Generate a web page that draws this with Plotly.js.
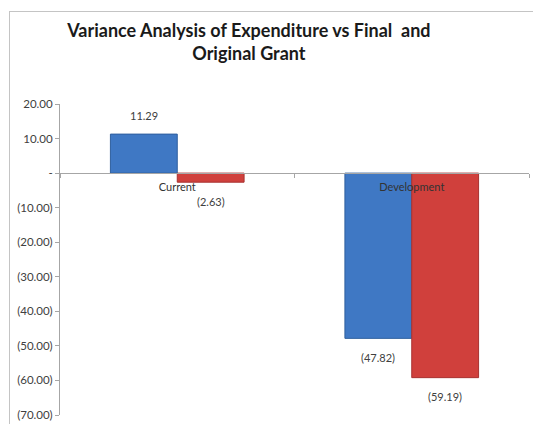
<!DOCTYPE html>
<html>
<head>
<meta charset="utf-8">
<script src="https://cdn.plot.ly/plotly-3.0.1.min.js"></script>
<style>
  html, body { margin: 0; padding: 0; background: #ffffff; }
  #wrap { position: relative; width: 533px; height: 424px; overflow: hidden; }
  #chart { width: 533px; height: 424px; }
  /* outer chart-area border, open to the right and bottom */
  #frame {
    position: absolute; left: 9px; top: 11px; width: 600px; height: 500px;
    border-left: 1px solid #c4c4c4; border-top: 1px solid #c4c4c4;
    pointer-events: none;
  }
</style>
</head>
<body>
<div id="wrap">
  <div id="chart"></div>
  <div id="frame"></div>
</div>
<script>
// Variance of expenditure by vote category
const categories = ["Current", "Development"];
const seriesNames = ["Variance vs Final Grant", "Variance vs Original Grant"];
const varianceFinal = [11.29, -47.82];
const varianceOriginal = [-2.63, -59.19];

// Value axis ticks, accounting-style labels
const yTickVals = [20, 10, 0, -10, -20, -30, -40, -50, -60, -70];
const yTickText = ["20.00", "10.00", "-", "(10.00)", "(20.00)", "(30.00)",
                   "(40.00)", "(50.00)", "(60.00)", "(70.00)"];

const yMin = -70, yMax = 20;

function fmtLabel(v) {
  const s = Math.abs(v).toFixed(2);
  return v < 0 ? "(" + s + ")" : s;
}

const fontFam = "Lato, 'Open Sans', sans-serif";
const seriesValues = [varianceFinal, varianceOriginal];
const seriesFill = ["#3f78c4", "#d0403c"];
const seriesEdge = ["#2f5f9e", "#a83230"];

const traces = seriesValues.map((vals, i) => ({
  type: "bar",
  name: seriesNames[i],
  x: categories,
  y: vals,
  marker: { color: seriesFill[i], line: { color: seriesEdge[i], width: 1 } },
  hoverinfo: "skip"
}));

// Data labels placed just beyond each bar end
const barHalf = 33.5;
const annotations = [];
seriesValues.forEach((vals, i) => {
  vals.forEach((v, j) => {
    annotations.push({
      x: categories[j], y: v, xref: "x", yref: "y",
      xshift: (i === 0 ? -barHalf : barHalf),
      yshift: v >= 0 ? 19 : -19,
      text: fmtLabel(v), showarrow: false,
      font: { family: fontFam, size: 11, color: "#404040" }
    });
  });
});

const layout = {
  width: 533, height: 424,
  margin: { l: 60, r: 4, t: 104, b: 9 },
  paper_bgcolor: "#ffffff",
  plot_bgcolor: "#ffffff",
  showlegend: false,
  barmode: "group",
  bargap: 0.43,
  bargroupgap: 0,
  title: {
    text: "<b>Variance Analysis of Expenditure vs Final  and<br>Original Grant</b>",
    font: { family: fontFam, size: 18, color: "#1a1a1a" },
    xref: "container", x: 0.467, xanchor: "center",
    yref: "container", y: 0.913, yanchor: "middle"
  },
  xaxis: {
    type: "category",
    anchor: "free",
    position: (0 - yMin) / (yMax - yMin),
    showline: true, linecolor: "#a6a6a6", linewidth: 1,
    ticks: "outside", tickson: "boundaries", ticklen: 4, tickcolor: "#a6a6a6",
    ticklabelstandoff: 4,
    showgrid: false, zeroline: false,
    tickfont: { family: fontFam, size: 11, color: "#333333" },
    fixedrange: true
  },
  yaxis: {
    range: [yMin, yMax],
    tickvals: yTickVals, ticktext: yTickText,
    showline: true, linecolor: "#a6a6a6", linewidth: 1,
    ticks: "outside", ticklen: 4, tickcolor: "#a6a6a6",
    ticklabeloverflow: "allow",
    showgrid: false, zeroline: false,
    tickfont: { family: fontFam, size: 11.5, color: "#404040" },
    fixedrange: true
  },
  annotations: annotations
};

Plotly.newPlot("chart", traces, layout, { staticPlot: true, displayModeBar: false });
</script>
</body>
</html>
